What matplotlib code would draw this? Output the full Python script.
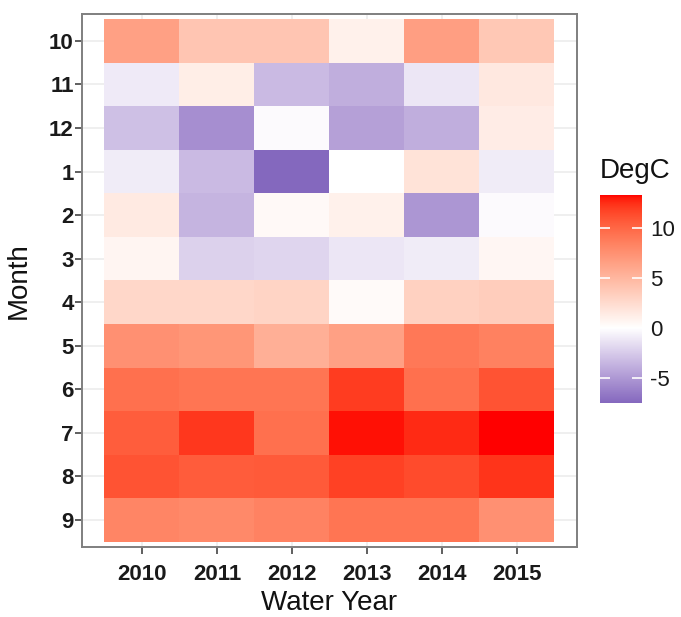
import numpy as np
import matplotlib
matplotlib.use('Agg')
import matplotlib.pyplot as plt
from matplotlib.colors import ListedColormap, Normalize

plt.rcParams['font.family'] = ['Liberation Sans', 'DejaVu Sans']
plt.rcParams['axes.unicode_minus'] = False

years = [2010, 2011, 2012, 2013, 2014, 2015]
months = [10, 11, 12, 1, 2, 3, 4, 5, 6, 7, 8, 9]

# mean temperature anomaly per month (rows) and water year (columns), degC
temp = np.array([
    [6.5, 4.0, 4.0, 1.0, 6.6, 3.8],      # 10
    [-1.0, 1.2, -3.3, -3.9, -1.2, 1.6],  # 11
    [-3.0, -5.5, -0.2, -4.6, -3.9, 1.3], # 12
    [-0.9, -3.3, -7.5, 0.0, 2.0, -0.9],  # 1
    [1.5, -3.6, 0.4, 1.0, -5.1, -0.2],   # 2
    [0.7, -2.2, -2.0, -1.2, -0.9, 0.6],  # 3
    [2.8, 2.8, 3.0, 0.3, 3.2, 3.5],      # 4
    [7.5, 7.2, 5.5, 6.5, 9.0, 8.5],      # 5
    [9.5, 9.2, 9.2, 12.0, 9.5, 11.0],    # 6
    [10.5, 12.2, 9.5, 13.1, 12.6, 13.3], # 7
    [11.0, 10.6, 10.7, 11.8, 11.4, 12.3],# 8
    [8.2, 8.0, 8.4, 9.2, 9.2, 7.5],      # 9
])


# --- Lab interpolation, like ggplot's gradient2 ---
def srgb_to_lab(rgb):
    rgb = np.asarray(rgb, float)
    lin = np.where(rgb <= 0.04045, rgb / 12.92, ((rgb + 0.055) / 1.055) ** 2.4)
    m = np.array([[0.4124, 0.3576, 0.1805],
                  [0.2126, 0.7152, 0.0722],
                  [0.0193, 0.1192, 0.9505]])
    xyz = m @ lin / np.array([0.95047, 1.0, 1.08883])
    f = np.where(xyz > 0.008856, np.cbrt(xyz), 7.787 * xyz + 16 / 116)
    return np.array([116 * f[1] - 16, 500 * (f[0] - f[1]), 200 * (f[1] - f[2])])


def lab_to_srgb(lab):
    L, a, b = lab
    fy = (L + 16) / 116
    fx = fy + a / 500
    fz = fy - b / 200
    f = np.array([fx, fy, fz])
    xyz = np.where(f ** 3 > 0.008856, f ** 3, (f - 16 / 116) / 7.787)
    xyz = xyz * np.array([0.95047, 1.0, 1.08883])
    m = np.array([[3.2406, -1.5372, -0.4986],
                  [-0.9689, 1.8758, 0.0415],
                  [0.0557, -0.2040, 1.0570]])
    lin = m @ xyz
    rgb = np.where(lin <= 0.0031308, 12.92 * lin, 1.055 * np.clip(lin, 0, None) ** (1 / 2.4) - 0.055)
    return np.clip(rgb, 0, 1)


lo_col = np.array([132, 104, 190]) / 255
mid_col = np.array([1.0, 1.0, 1.0])
hi_col = np.array([1.0, 0.0, 0.0])

vmin, vmax = temp.min(), temp.max()
vals = np.linspace(vmin, vmax, 512)
lab_lo, lab_mid, lab_hi = srgb_to_lab(lo_col), srgb_to_lab(mid_col), srgb_to_lab(hi_col)
cols = []
for v in vals:
    if v < 0:
        t = v / vmin
        cols.append(lab_to_srgb(lab_mid + t * (lab_lo - lab_mid)))
    else:
        t = v / vmax
        cols.append(lab_to_srgb(lab_mid + t * (lab_hi - lab_mid)))
cmap = ListedColormap(cols)
norm = Normalize(vmin=vmin, vmax=vmax)

fig = plt.figure(figsize=(6.81, 6.17), dpi=100)
ax = fig.add_axes([0.1204, 0.1135, 0.7263, 0.8639])

x_edges = np.arange(len(years) + 1) + years[0] - 0.5
y_edges = np.arange(len(months) + 1)
mesh = ax.pcolormesh(x_edges, y_edges, temp, cmap=cmap, norm=norm, zorder=2)

ax.set_xlim(years[0] - 0.8, years[-1] + 0.8)
ax.set_ylim(len(months) + 0.12, -0.12)
ax.set_xticks(years)
ax.set_xticklabels([str(y) for y in years])
ax.set_yticks(np.arange(len(months)) + 0.5)
ax.set_yticklabels([str(m) for m in months])
ax.grid(True, color='#ebebeb', lw=1.1, zorder=0)
ax.set_axisbelow(True)

for s in ax.spines.values():
    s.set_color('#7f7f7f')
    s.set_linewidth(1.4)

ax.tick_params(length=5, width=1.2, color='#444444', labelsize=16,
               labelcolor='#1a1a1a')
ax.tick_params(axis='x', pad=7.5)
ax.tick_params(axis='y', pad=1)
for lab in ax.get_xticklabels() + ax.get_yticklabels():
    lab.set_fontweight('bold')

ax.set_xlabel('Water Year', fontsize=20, color='#111111', labelpad=3.5)
ax.set_ylabel('Month', fontsize=20, color='#111111', labelpad=12)

# colour bar legend
cax = fig.add_axes([0.881, 0.3468, 0.0617, 0.3371])
cb = fig.colorbar(mesh, cax=cax)
cb.outline.set_visible(False)
cb.set_ticks([-5, 0, 5, 10])
cax.tick_params(direction='in', color='white', length=7, width=1.2,
                left=True, right=True, labelsize=16, labelcolor='#1a1a1a', pad=6)
fig.text(0.881, 0.702, 'DegC', fontsize=20, color='#111111', ha='left', va='bottom')

fig.savefig('out.png', dpi=100)
